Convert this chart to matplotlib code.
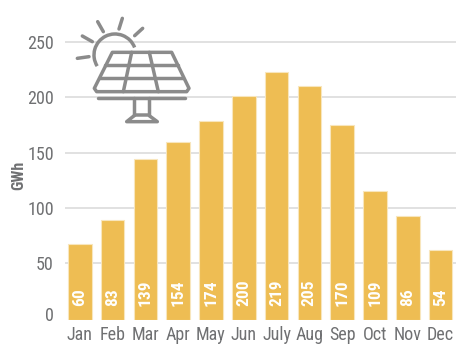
#!/usr/bin/env python3
"""Monthly solar generation bars with a small panel icon."""

import matplotlib as mpl

mpl.use("Agg")
import matplotlib.pyplot as plt
from matplotlib.patches import Arc, Polygon
from matplotlib.transforms import ScaledTranslation

months = ["Jan", "Feb", "Mar", "Apr", "May", "Jun", "July", "Aug", "Sep", "Oct", "Nov", "Dec"]
bar_heights = [67, 89, 144, 160, 179, 201, 223, 210, 175, 115, 93, 62]
bar_labels = [60, 83, 139, 154, 174, 200, 219, 205, 170, 109, 86, 54]
y_ticks = [0, 50, 100, 150, 200, 250]

WIDTH, HEIGHT = 474, 360
FONT = ["Roboto Condensed", "Roboto", "DejaVu Sans"]
TEXT_GREY = "#6f7072"
ICON_GREY = "#8b8b8b"
ICON_LW = 2.5

plt.rcParams["font.family"] = FONT

fig = plt.figure(figsize=(WIDTH / 100, HEIGHT / 100), dpi=100)
# axes spans x 65..456, y 30..320 in image pixels
ax = fig.add_axes([65 / WIDTH, 1 - 320 / HEIGHT, 391 / WIDTH, 290 / HEIGHT])
ax.set_xlim(-0.448, 11.47)
ax.set_ylim(-1.3, 261)

x_pos = list(range(len(months)))
ax.bar(x_pos, [h + 1.3 for h in bar_heights], bottom=-1.3, width=0.72,
       color="#eebd53", edgecolor="#f8e6bd", linewidth=0.8, zorder=2)
for x, label in zip(x_pos, bar_labels):
    ax.text(x, 11.5, str(label), rotation=90, ha="center", va="bottom",
            color="white", fontsize=12.5, fontweight="bold", zorder=3)

for value in y_ticks[1:]:
    ax.axhline(value, color="#dcdcdc", linewidth=1.2, zorder=1)

for spine in ax.spines.values():
    spine.set_visible(False)
ax.set_xticks(x_pos)
ax.set_xticklabels(months, fontsize=13, color=TEXT_GREY)
ax.set_yticks(y_ticks)
ax.set_yticklabels([str(v) for v in y_ticks], fontsize=13, color=TEXT_GREY)
ax.tick_params(length=0)
ax.tick_params(axis="x", pad=4)
ax.tick_params(axis="y", pad=8)
# the zero label sits a little above its tick in the original
zero_label = ax.get_yticklabels()[0]
zero_label.set_verticalalignment("center_baseline")
zero_label.set_transform(zero_label.get_transform() + ScaledTranslation(0, 5 / 100, fig.dpi_scale_trans))
ax.set_ylabel("")
fig.text(19 / WIDTH, 1 - 175 / HEIGHT, "GWh", rotation=90, ha="center", va="center",
         fontsize=11.5, fontweight="bold", color=TEXT_GREY)

# icon layer, drawn in image pixels
icon = fig.add_axes([0, 0, 1, 1], facecolor="none")
icon.set_xlim(0, WIDTH)
icon.set_ylim(HEIGHT, 0)
icon.axis("off")


def px(x, y):
    """Convert a position in the zoomed icon crop to image pixels."""
    return 60 + x / 3, y / 3


def stroke(*points):
    xs, ys = zip(*(px(*p) for p in points))
    icon.plot(xs, ys, color=ICON_GREY, linewidth=ICON_LW, solid_capstyle="round")


icon.add_patch(Polygon([px(157, 157), px(335, 157), px(387, 265), px(380, 275), px(110, 275), px(103, 265)],
                       closed=True, fill=False, edgecolor=ICON_GREY, linewidth=ICON_LW, joinstyle="round"))
stroke((135, 195), (355, 195))
stroke((120, 235), (370, 235))
stroke((215, 157), (190, 275))
stroke((268, 157), (295, 275))
stroke((113, 293), (375, 293))
stroke((222, 295), (222, 345))
stroke((268, 295), (268, 345))
icon.add_patch(Polygon([px(225, 345), px(265, 345), px(292, 365), px(200, 365)],
                       closed=True, fill=False, edgecolor=ICON_GREY, linewidth=ICON_LW, joinstyle="round"))
# sun arc and rays
cx, cy = px(165, 165)
icon.add_patch(Arc((cx, cy), 42, 42, theta1=148, theta2=339, color=ICON_GREY, linewidth=ICON_LW))
stroke((113, 65), (130, 95))
stroke((187, 55), (177, 87))
stroke((248, 85), (224, 107))
stroke((67, 108), (97, 125))
stroke((52, 175), (87, 170))

fig.savefig("out.png", dpi=100)
plt.close(fig)
